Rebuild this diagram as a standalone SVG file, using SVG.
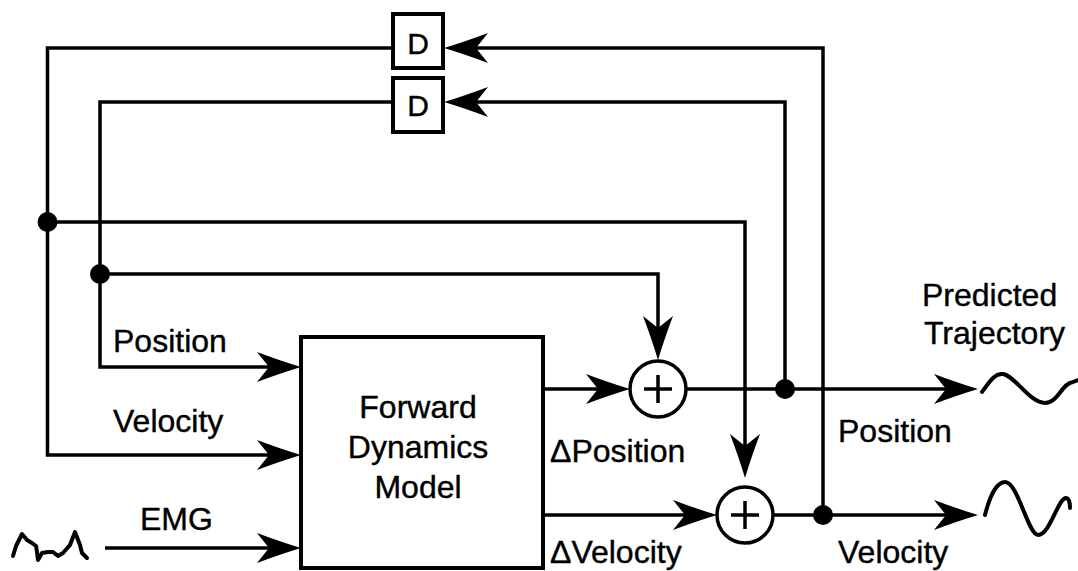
<svg xmlns="http://www.w3.org/2000/svg" width="1078" height="571" viewBox="0 0 1078 571">
<style>
.ln{fill:none;stroke:#000;stroke-width:3.5;stroke-linejoin:miter}
.box{fill:#fff;stroke:#000;stroke-width:4}
.t{font-family:"Liberation Sans",Arial,sans-serif;font-size:32px;fill:#000;stroke:#000;stroke-width:0.4}
.d{font-family:"Liberation Sans",Arial,sans-serif;font-size:30px;fill:#000;text-anchor:middle;stroke:#000;stroke-width:0.4}
.wave{fill:none;stroke:#000;stroke-width:4;stroke-linejoin:round;stroke-linecap:round}
</style>
<defs>
<path id="ah" d="M0,0 Q-20,-6 -44,-15 L-32,0 L-44,15 Q-20,6 0,0 Z" fill="#000"/>
</defs>
<rect width="1078" height="571" fill="#fff"/>
<g id="connectors">
<path class="ln" d="M823,515 L823,48 L450,48"/>
<use href="#ah" transform="translate(444,48) rotate(180)"/>
<path class="ln" d="M392,48 L47.5,48 L47.5,455 L295,455"/>
<use href="#ah" transform="translate(301,455)"/>
<path class="ln" d="M785,389 L785,102 L450,102"/>
<use href="#ah" transform="translate(444,102) rotate(180)"/>
<path class="ln" d="M392,102 L100,102 L100,367 L295,367"/>
<use href="#ah" transform="translate(301,367)"/>
<path class="ln" d="M47.5,222 L745,222 L745,472"/>
<use href="#ah" transform="translate(745,478) rotate(90)"/>
<path class="ln" d="M100,274 L658,274 L658,354"/>
<use href="#ah" transform="translate(658,360) rotate(90)"/>
<path class="ln" d="M543,389 L624,389"/>
<use href="#ah" transform="translate(630,389)"/>
<path class="ln" d="M543,515 L711,515"/>
<use href="#ah" transform="translate(717,515)"/>
<path class="ln" d="M105,548 L295,548"/>
<use href="#ah" transform="translate(301,548)"/>
<path class="ln" d="M686,389 L972,389"/>
<use href="#ah" transform="translate(978,389)"/>
<path class="ln" d="M773,515 L972,515"/>
<use href="#ah" transform="translate(978,515)"/>
<circle cx="47.5" cy="222" r="10" fill="#000"/>
<circle cx="100" cy="274" r="10" fill="#000"/>
<circle cx="785" cy="389" r="10" fill="#000"/>
<circle cx="823" cy="515" r="10" fill="#000"/>
</g>
<g id="delay1">
<rect class="box" x="393" y="14" width="50" height="54"/>
<text class="d" x="418" y="54">D</text>
</g>
<g id="delay2">
<rect class="box" x="393" y="78" width="50" height="54"/>
<text class="d" x="418" y="116">D</text>
</g>
<g id="fdm">
<rect class="box" x="301" y="337" width="242" height="231"/>
<text class="t" x="418" y="418" text-anchor="middle">Forward</text>
<text class="t" x="418" y="458" text-anchor="middle">Dynamics</text>
<text class="t" x="418" y="498" text-anchor="middle">Model</text>
</g>
<g id="sumPosition">
<circle cx="658" cy="389" r="28" fill="#fff" stroke="#000" stroke-width="3.5"/>
<path class="ln" d="M644,389 H672 M658,375 V403" stroke-width="4"/>
</g>
<g id="sumVelocity">
<circle cx="745" cy="515" r="28" fill="#fff" stroke="#000" stroke-width="3.5"/>
<path class="ln" d="M731,515 H759 M745,501 V529" stroke-width="4"/>
</g>
<g id="labels">
<text class="t" x="113" y="352">Position</text>
<text class="t" x="113" y="432">Velocity</text>
<text class="t" x="140" y="530">EMG</text>
<text class="t" x="550" y="462">ΔPosition</text>
<text class="t" x="550" y="563">ΔVelocity</text>
<text class="t" x="838" y="442">Position</text>
<text class="t" x="838" y="563">Velocity</text>
<text class="t" x="922" y="306">Predicted</text>
<text class="t" x="924" y="344">Trajectory</text>
</g>
<g id="waves">
<path class="wave" d="M13,556 L16,546 L22,534 L27,540 L32,543 L36,546 L37,552 L38,560 L42,553 L48,552 L53,552 L58,556 L63,553 L70,545 L75,532 L80,545 L82,553 L87,558"/>
<path class="wave" d="M982,392 C990,381 995,373 1003,374 C1015,376 1030,403 1045,403 C1058,403 1062,383 1073,382 L1078,380"/>
<path class="wave" d="M985,515 C990,495 997,482 1005,482 C1018,482 1028,535 1038,535 C1050,535 1058,498 1066,498 C1069,498 1070,504 1070,508"/>
</g>
</svg>
